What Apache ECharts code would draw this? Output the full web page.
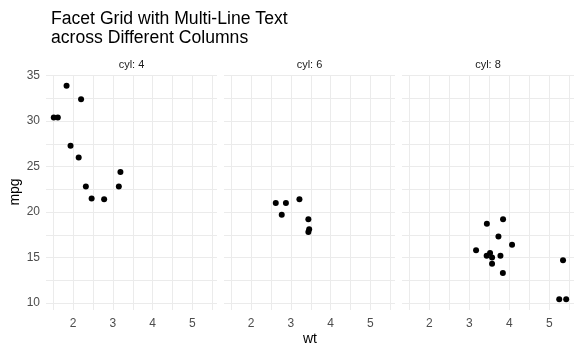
<!DOCTYPE html>
<html><head><meta charset="utf-8">
<script src="https://cdn.jsdelivr.net/npm/echarts@6/dist/echarts.min.js"></script>
<style>html,body{margin:0;padding:0;background:#fff}#c{width:581px;height:355px}</style>
</head><body><div id="c"></div>
<script>
const facets = ['cyl: 4', 'cyl: 6', 'cyl: 8'];
const wt4 = [2.320, 3.190, 3.150, 2.200, 1.615, 1.835, 2.465, 1.935, 2.140, 1.513, 2.780];
const mpg4 = [22.8, 24.4, 22.8, 32.4, 30.4, 33.9, 21.5, 27.3, 26.0, 30.4, 21.4];
const wt6 = [2.620, 2.875, 3.215, 3.460, 3.440, 3.440, 2.770];
const mpg6 = [21.0, 21.0, 21.4, 18.1, 19.2, 17.8, 19.7];
const wt8 = [3.440, 3.570, 4.070, 3.730, 3.780, 5.250, 5.424, 5.345, 3.520, 3.435, 3.840, 3.845, 3.170, 3.570];
const mpg8 = [18.7, 14.3, 16.4, 17.3, 15.2, 10.4, 10.4, 14.7, 15.5, 15.2, 13.3, 19.2, 15.8, 15.0];
const xTicks = [2, 3, 4, 5];
const yTicks = [10, 15, 20, 25, 30, 35];
const xGrid = [1.5, 2, 2.5, 3, 3.5, 4, 4.5, 5, 5.5];
const yGrid = [10, 12.5, 15, 17.5, 20, 22.5, 25, 27.5, 30, 32.5, 35];

const wts = [wt4, wt6, wt8], mpgs = [mpg4, mpg6, mpg8];
const xMin = 1.3175, xMax = 5.6195, yMin = 9.225, yMax = 35.075;
const lefts = [46, 224, 402], widths = [171, 171, 172];
const gTop = 75, gHeight = 235;
const gridColor = '#ebebeb';
const font = 'Liberation Sans, Arial, sans-serif';

const grids = [], xAxes = [], yAxes = [], series = [];
const titles = [{text: 'Facet Grid with Multi-Line Text\nacross Different Columns', left: 46, top: 5,
  textStyle: {fontFamily: font, fontSize: 17.6, fontWeight: 'normal', color: '#000', lineHeight: 19}}];
for (let i = 0; i < 3; i++) {
  grids.push({left: lefts[i], top: gTop, width: widths[i], height: gHeight});
  xAxes.push({type: 'value', gridIndex: i, min: xMin, max: xMax,
    axisLine: {show: false}, axisTick: {show: false, customValues: xGrid},
    axisLabel: {show: true, color: '#4d4d4d', fontFamily: font, fontSize: 12, margin: 8,
      customValues: xTicks},
    splitLine: {show: true, lineStyle: {color: gridColor, width: 1}}
  });
  yAxes.push({type: 'value', gridIndex: i, min: yMin, max: yMax,
    axisLine: {show: false}, axisTick: {show: false, customValues: yGrid},
    axisLabel: {show: i === 0, color: '#4d4d4d', fontFamily: font, fontSize: 12, margin: 6,
      customValues: yTicks},
    splitLine: {show: true, lineStyle: {color: gridColor, width: 1}}
  });
  series.push({type: 'scatter', xAxisIndex: i, yAxisIndex: i, symbolSize: 6,
    itemStyle: {color: '#000', opacity: 1}, silent: true,
    data: wts[i].map((w, k) => [w, mpgs[i][k]])});
}
const chart = echarts.init(document.getElementById('c'), null, {renderer: 'canvas'});
const graphics = [];
for (let i = 0; i < 3; i++) {
  graphics.push({type: 'text', x: lefts[i] + widths[i] / 2, y: 59,
    style: {text: facets[i], font: '11px ' + font, fill: '#1a1a1a', textAlign: 'center'}});
}
graphics.push({type: 'text', x: 310, y: 332, style: {text: 'wt', font: '14px ' + font, fill: '#000', textAlign: 'center'}});
graphics.push({type: 'text', x: 8, y: 192, rotation: Math.PI / 2,
  style: {text: 'mpg', font: '14px ' + font, fill: '#000', textAlign: 'center'}});
chart.setOption({
  animation: false,
  title: titles,
  grid: grids, xAxis: xAxes, yAxis: yAxes, series: series,
  graphic: graphics
});
</script></body></html>
